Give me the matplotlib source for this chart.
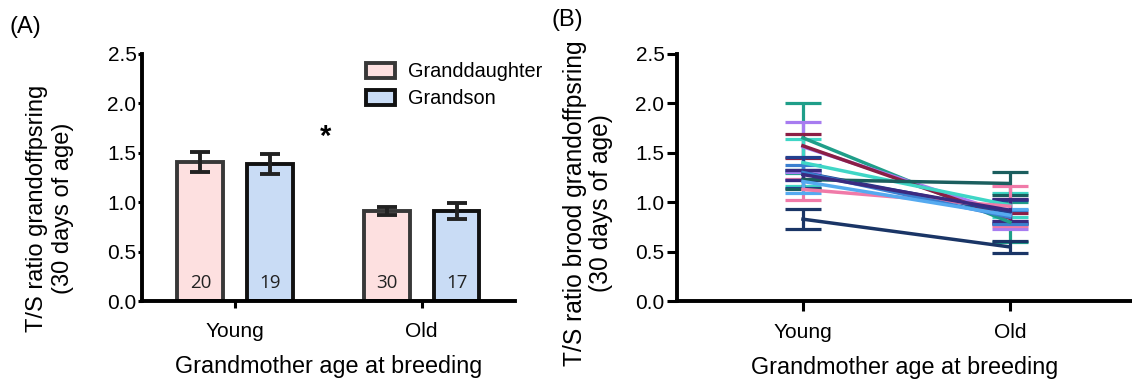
import matplotlib.pyplot as plt
import numpy as np

plt.rcParams['font.family'] = ['Liberation Sans', 'DejaVu Sans']

# Panel A data
groups = ['Young', 'Old']
gd_mean = [1.41, 0.91]
gd_err = [0.10, 0.04]
gs_mean = [1.39, 0.91]
gs_err = [0.10, 0.08]
gd_n = [20, 30]
gs_n = [19, 17]

# Panel B data: one line per family, young -> old
b_colors = ['#1f9e89', '#a77cf0', '#8b1e45', '#3fd6c6', '#22408f', '#1b5e5e',
            '#f07aa8', '#1a3566', '#3a7fd0', '#55aaf0', '#3a2a80']
b_young = [1.65, 1.56, 1.57, 1.40, 1.30, 1.23, 1.13, 0.83, 1.30, 1.21, 1.28]
b_young_err = [0.35, 0.25, 0.12, 0.24, 0.16, 0.10, 0.11, 0.10, 0.08, 0.12, 0.05]
b_old = [0.80, 0.88, 0.84, 0.97, 0.90, 1.19, 0.96, 0.55, 0.85, 0.87, 0.92]
b_old_err = [0.20, 0.15, 0.05, 0.12, 0.12, 0.12, 0.20, 0.06, 0.07, 0.06, 0.11]

W, H = 1132, 385
fig = plt.figure(figsize=(W / 100, H / 100), dpi=100)
axA = fig.add_axes([0.1254, 0.2169, 0.3295, 0.644])
axB = fig.add_axes([0.598, 0.2169, 0.402, 0.644])


def style_axis(ax, xticklen, yticklen, ypad, xpad):
    for s in ['top', 'right']:
        ax.spines[s].set_visible(False)
    for s in ['left', 'bottom']:
        ax.spines[s].set_linewidth(2.8)
    ax.tick_params(axis='x', width=2.2, length=xticklen, pad=xpad, labelsize=15)
    ax.tick_params(axis='y', width=2.2, length=yticklen, pad=ypad, labelsize=15)
    ax.set_ylim(0, 2.5)
    ax.set_yticks(np.arange(0, 2.6, 0.5))
    ax.set_yticklabels(['{:.1f}'.format(v) for v in np.arange(0, 2.6, 0.5)])
    ax.set_xlabel('Grandmother age at breeding', fontsize=16.8, labelpad=10)


# Panel A
x = np.arange(len(groups))
off, w = 0.187, 0.245
axA.bar(x - off, gd_mean, w, color='#fde0e0', edgecolor='#383838', linewidth=2.8,
        label='Granddaughter', zorder=2)
axA.bar(x + off, gs_mean, w, color='#c9dcf5', edgecolor='#111111', linewidth=2.8,
        label='Grandson', zorder=2)
axA.errorbar(x - off, gd_mean, yerr=gd_err, fmt='none', ecolor='#222222',
             elinewidth=2.8, capsize=7.5, capthick=2.8, zorder=3)
axA.errorbar(x + off, gs_mean, yerr=gs_err, fmt='none', ecolor='#222222',
             elinewidth=2.8, capsize=7.5, capthick=2.8, zorder=3)
for i in range(len(groups)):
    axA.text(x[i] - off, 0.19, str(gd_n[i]), ha='center', va='center', fontsize=13.5,
             family=['Open Sans', 'DejaVu Sans'], color='#222222')
    axA.text(x[i] + off, 0.19, str(gs_n[i]), ha='center', va='center', fontsize=13.5,
             family=['Open Sans', 'DejaVu Sans'], color='#222222')
axA.text(0.485, 1.66, '*', ha='center', va='center', fontsize=21, fontweight='bold')
axA.set_xlim(-0.5, 1.5)
axA.set_xticks(x)
axA.set_xticklabels(groups)
style_axis(axA, 5, 3, 1, 10)
axA.legend(loc='upper left', bbox_to_anchor=(0.60, 0.965), frameon=False, fontsize=14.3,
           handlelength=1.45, handleheight=0.75, handletextpad=0.7, labelspacing=0.4,
           borderpad=0, borderaxespad=0)

# Panel B
for c, y0, e0, y1, e1 in zip(b_colors, b_young, b_young_err, b_old, b_old_err):
    axB.errorbar([0, 1], [y0, y1], yerr=[e0, e1], color=c, linewidth=2.5,
                 elinewidth=2.3, capsize=13, capthick=2.3)
axB.set_xlim(-0.609, 1.59)
axB.set_xticks([0, 1])
axB.set_xticklabels(groups)
style_axis(axB, 7.5, 7, 2, 8)

# y labels sit a little below the axes centre in the original
fig.text(50 / W, 1 - 208 / H, 'T/S ratio grandoffpsring\n(30 days of age)',
         rotation=90, ha='center', va='center', multialignment='center',
         fontsize=17, linespacing=1.2)
fig.text(588 / W, 1 - 203 / H, 'T/S ratio brood grandoffpsring\n(30 days of age)',
         rotation=90, ha='center', va='center', multialignment='center',
         fontsize=17.7, linespacing=1.15)

fig.text(0.0088, 0.929, '(A)', fontsize=17, va='center')
fig.text(0.4876, 0.948, '(B)', fontsize=17, va='center')

fig.savefig('out.png', dpi=100)
